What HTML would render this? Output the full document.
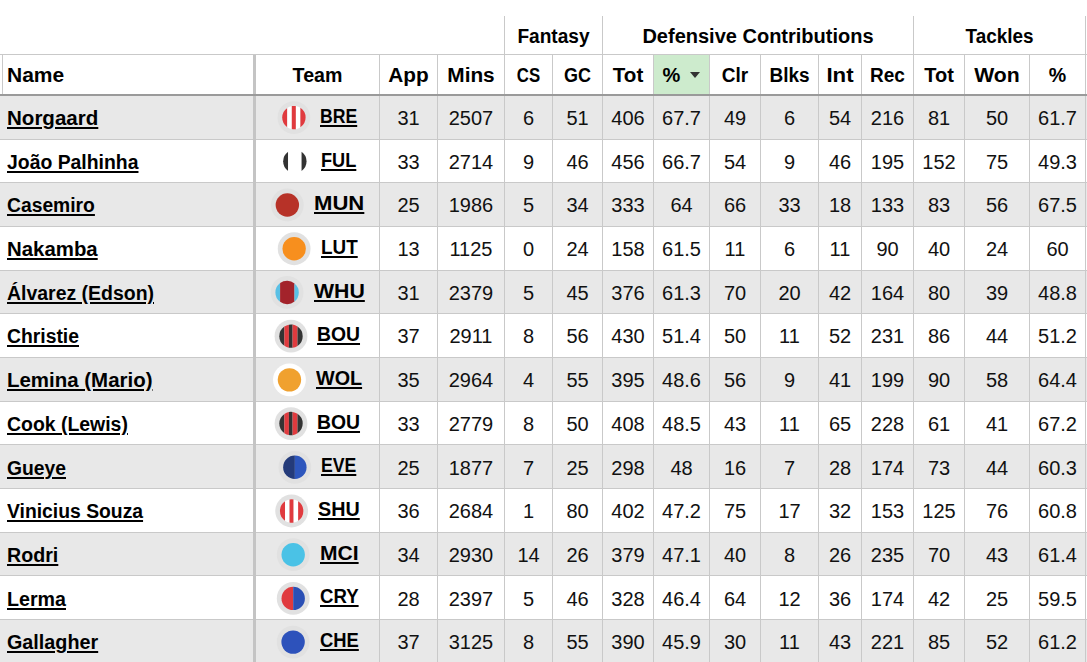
<!DOCTYPE html><html><head><meta charset="utf-8"><style>
*{margin:0;padding:0;box-sizing:border-box}
html,body{width:1087px;height:662px;overflow:hidden;background:#fff}
body{position:relative;font-family:"Liberation Sans",sans-serif;font-size:20px;color:#111}
.a{position:absolute}
.t{position:absolute;line-height:20px;height:20px;white-space:nowrap;text-align:center}
.b{font-weight:bold;color:#000}
.u{text-decoration:underline;text-decoration-thickness:2px;text-underline-offset:2px}
.vl{position:absolute;width:1px;background:#c9c9c9}
.hl{position:absolute;height:1px;background:#c9c9c9;left:0;width:1087px}
.ic{display:block;width:23.4px;height:23.4px;border-radius:50%;border:4.7px solid #e1e1e1;box-sizing:content-box;vertical-align:top}
.tm{position:absolute;display:flex;align-items:center;justify-content:center;height:40px}
</style></head><body>

<div class="a" style="left:0;top:96px;width:1087px;height:43px;background:#e8e8e8"></div>
<div class="a" style="left:0;top:183px;width:1087px;height:43px;background:#e8e8e8"></div>
<div class="a" style="left:0;top:271px;width:1087px;height:42px;background:#e8e8e8"></div>
<div class="a" style="left:0;top:358px;width:1087px;height:43px;background:#e8e8e8"></div>
<div class="a" style="left:0;top:445px;width:1087px;height:43px;background:#e8e8e8"></div>
<div class="a" style="left:0;top:533px;width:1087px;height:42px;background:#e8e8e8"></div>
<div class="a" style="left:0;top:620px;width:1087px;height:43px;background:#e8e8e8"></div>
<div class="a" style="left:654px;top:55px;width:55px;height:39px;background:#cdebcd"></div>
<div class="hl" style="top:54px"></div>
<div class="hl" style="top:139px"></div>
<div class="hl" style="top:182px"></div>
<div class="hl" style="top:226px"></div>
<div class="hl" style="top:270px"></div>
<div class="hl" style="top:313px"></div>
<div class="hl" style="top:357px"></div>
<div class="hl" style="top:401px"></div>
<div class="hl" style="top:444px"></div>
<div class="hl" style="top:488px"></div>
<div class="hl" style="top:532px"></div>
<div class="hl" style="top:575px"></div>
<div class="hl" style="top:619px"></div>
<div class="hl" style="top:663px"></div>
<div class="vl" style="left:2px;top:55px;height:39px"></div>
<div class="vl" style="left:253px;top:55px;width:3px;height:607px;background:#c4c4c4"></div>
<div class="vl" style="left:379px;top:55px;height:607px"></div>
<div class="vl" style="left:437px;top:55px;height:607px"></div>
<div class="vl" style="left:504px;top:16px;height:646px"></div>
<div class="vl" style="left:552px;top:55px;height:607px"></div>
<div class="vl" style="left:602px;top:16px;height:646px"></div>
<div class="vl" style="left:653px;top:55px;height:607px"></div>
<div class="vl" style="left:709px;top:55px;height:607px"></div>
<div class="vl" style="left:760px;top:55px;height:607px"></div>
<div class="vl" style="left:818px;top:55px;height:607px"></div>
<div class="vl" style="left:861px;top:55px;height:607px"></div>
<div class="vl" style="left:913px;top:16px;height:646px"></div>
<div class="vl" style="left:964px;top:55px;height:607px"></div>
<div class="vl" style="left:1029px;top:55px;height:607px"></div>
<div class="vl" style="left:1085px;top:16px;height:646px"></div>
<div class="a" style="left:0;top:94px;width:1087px;height:2px;background:#9a9a9a"></div>
<div class="t b" style="left:505px;width:97px;top:26px;transform:scaleX(0.955)">Fantasy</div>
<div class="t b" style="left:603px;width:310px;top:26px;transform:scaleX(1.0)">Defensive Contributions</div>
<div class="t b" style="left:914px;width:171px;top:26px;transform:scaleX(0.946)">Tackles</div>
<div class="t b" style="left:7px;text-align:left;top:65px;transform-origin:0 0;transform:scaleX(1.05)">Name</div>
<div class="t b" style="left:256px;width:123px;top:65px;transform:scaleX(0.98)">Team</div>
<div class="t b" style="left:380px;width:57px;top:65px;transform:scaleX(1.04)">App</div>
<div class="t b" style="left:438px;width:66px;top:65px;transform:scaleX(1.04)">Mins</div>
<div class="t b" style="left:505px;width:47px;top:65px;transform:scaleX(0.84)">CS</div>
<div class="t b" style="left:553px;width:49px;top:65px;transform:scaleX(0.9)">GC</div>
<div class="t b" style="left:603px;width:50px;top:65px;transform:scaleX(1.03)">Tot</div>
<div class="t b" style="left:654px;width:55px;top:65px">%<span style="display:inline-block;width:0;height:0;border-left:5px solid transparent;border-right:5px solid transparent;border-top:6px solid #333;margin-left:10px;vertical-align:4px"></span></div>
<div class="t b" style="left:710px;width:50px;top:65px;transform:scaleX(0.95)">Clr</div>
<div class="t b" style="left:761px;width:57px;top:65px;transform:scaleX(0.95)">Blks</div>
<div class="t b" style="left:819px;width:42px;top:65px;transform:scaleX(1.11)">Int</div>
<div class="t b" style="left:862px;width:51px;top:65px;transform:scaleX(0.95)">Rec</div>
<div class="t b" style="left:914px;width:50px;top:65px;transform:scaleX(1.0)">Tot</div>
<div class="t b" style="left:965px;width:64px;top:65px;transform:scaleX(1.06)">Won</div>
<div class="t b" style="left:1030px;width:55px;top:65px;transform:scaleX(0.98)">%</div>
<div class="t b u" style="left:7px;text-align:left;top:108px;transform-origin:0 0;transform:scaleX(1.0269)">Norgaard</div>
<svg class="a" style="left:275px;top:99px" width="40" height="40"><circle cx="18.90" cy="18.60" r="16.4" fill="#e1e1e1"/><path d="M7.20 18.60L7.20 18.60A11.7 11.7 0 0 0 12.30 28.26L12.30 8.94A11.7 11.7 0 0 0 7.20 18.60Z" fill="#e03a3e"/><path d="M12.30 8.94L12.30 28.26A11.7 11.7 0 0 0 16.80 30.11L16.80 7.09A11.7 11.7 0 0 0 12.30 8.94Z" fill="#ffffff"/><path d="M16.80 7.09L16.80 30.11A11.7 11.7 0 0 0 20.90 30.13L20.90 7.07A11.7 11.7 0 0 0 16.80 7.09Z" fill="#e03a3e"/><path d="M20.90 7.07L20.90 30.13A11.7 11.7 0 0 0 25.40 28.33L25.40 8.87A11.7 11.7 0 0 0 20.90 7.07Z" fill="#ffffff"/><path d="M25.40 8.87L25.40 28.33A11.7 11.7 0 0 0 30.60 18.60L30.60 18.60A11.7 11.7 0 0 0 25.40 8.87Z" fill="#e03a3e"/></svg>
<div class="t b u" style="left:320.30px;text-align:left;top:106px;transform-origin:0 0;transform:scaleX(0.8811)">BRE</div>
<div class="t" style="left:380px;width:57px;top:108px">31</div>
<div class="t" style="left:438px;width:66px;top:108px">2507</div>
<div class="t" style="left:505px;width:47px;top:108px">6</div>
<div class="t" style="left:553px;width:49px;top:108px">51</div>
<div class="t" style="left:603px;width:50px;top:108px">406</div>
<div class="t" style="left:654px;width:55px;top:108px">67.7</div>
<div class="t" style="left:710px;width:50px;top:108px">49</div>
<div class="t" style="left:761px;width:57px;top:108px">6</div>
<div class="t" style="left:819px;width:42px;top:108px">54</div>
<div class="t" style="left:862px;width:51px;top:108px">216</div>
<div class="t" style="left:914px;width:50px;top:108px">81</div>
<div class="t" style="left:965px;width:64px;top:108px">50</div>
<div class="t" style="left:1030px;width:55px;top:108px">61.7</div>
<div class="t b u" style="left:7px;text-align:left;top:152px;transform-origin:0 0;transform:scaleX(0.9696)">João Palhinha</div>
<svg class="a" style="left:276px;top:142px" width="40" height="40"><circle cx="18.85" cy="19.31" r="16.4" fill="#ffffff"/><path d="M7.15 19.31L7.15 19.31A11.7 11.7 0 0 0 12.15 28.90L12.15 9.72A11.7 11.7 0 0 0 7.15 19.31Z" fill="#333"/><path d="M12.15 9.72L12.15 28.90A11.7 11.7 0 0 0 25.55 28.90L25.55 9.72A11.7 11.7 0 0 0 12.15 9.72Z" fill="#fff"/><path d="M25.55 9.72L25.55 28.90A11.7 11.7 0 0 0 30.55 19.31L30.55 19.31A11.7 11.7 0 0 0 25.55 9.72Z" fill="#333"/></svg>
<div class="t b u" style="left:321.25px;text-align:left;top:150px;transform-origin:0 0;transform:scaleX(0.9080)">FUL</div>
<div class="t" style="left:380px;width:57px;top:152px">33</div>
<div class="t" style="left:438px;width:66px;top:152px">2714</div>
<div class="t" style="left:505px;width:47px;top:152px">9</div>
<div class="t" style="left:553px;width:49px;top:152px">46</div>
<div class="t" style="left:603px;width:50px;top:152px">456</div>
<div class="t" style="left:654px;width:55px;top:152px">66.7</div>
<div class="t" style="left:710px;width:50px;top:152px">54</div>
<div class="t" style="left:761px;width:57px;top:152px">9</div>
<div class="t" style="left:819px;width:42px;top:152px">46</div>
<div class="t" style="left:862px;width:51px;top:152px">195</div>
<div class="t" style="left:914px;width:50px;top:152px">152</div>
<div class="t" style="left:965px;width:64px;top:152px">75</div>
<div class="t" style="left:1030px;width:55px;top:152px">49.3</div>
<div class="t b u" style="left:7px;text-align:left;top:195px;transform-origin:0 0;transform:scaleX(0.9643)">Casemiro</div>
<svg class="a" style="left:268px;top:186px" width="40" height="40"><circle cx="19.35" cy="19.02" r="16.4" fill="#e1e1e1"/><circle cx="19.35" cy="19.02" r="11.7" fill="#b73228"/></svg>
<div class="t b u" style="left:313.75px;text-align:left;top:193px;transform-origin:0 0;transform:scaleX(1.1047)">MUN</div>
<div class="t" style="left:380px;width:57px;top:195px">25</div>
<div class="t" style="left:438px;width:66px;top:195px">1986</div>
<div class="t" style="left:505px;width:47px;top:195px">5</div>
<div class="t" style="left:553px;width:49px;top:195px">34</div>
<div class="t" style="left:603px;width:50px;top:195px">333</div>
<div class="t" style="left:654px;width:55px;top:195px">64</div>
<div class="t" style="left:710px;width:50px;top:195px">66</div>
<div class="t" style="left:761px;width:57px;top:195px">33</div>
<div class="t" style="left:819px;width:42px;top:195px">18</div>
<div class="t" style="left:862px;width:51px;top:195px">133</div>
<div class="t" style="left:914px;width:50px;top:195px">83</div>
<div class="t" style="left:965px;width:64px;top:195px">56</div>
<div class="t" style="left:1030px;width:55px;top:195px">67.5</div>
<div class="t b u" style="left:7px;text-align:left;top:239px;transform-origin:0 0;transform:scaleX(1.0198)">Nakamba</div>
<svg class="a" style="left:275px;top:230px" width="40" height="40"><circle cx="19.15" cy="18.73" r="16.4" fill="#e1e1e1"/><circle cx="19.15" cy="18.73" r="11.7" fill="#f78f1e"/></svg>
<div class="t b u" style="left:320.55px;text-align:left;top:237px;transform-origin:0 0;transform:scaleX(0.9441)">LUT</div>
<div class="t" style="left:380px;width:57px;top:239px">13</div>
<div class="t" style="left:438px;width:66px;top:239px">1125</div>
<div class="t" style="left:505px;width:47px;top:239px">0</div>
<div class="t" style="left:553px;width:49px;top:239px">24</div>
<div class="t" style="left:603px;width:50px;top:239px">158</div>
<div class="t" style="left:654px;width:55px;top:239px">61.5</div>
<div class="t" style="left:710px;width:50px;top:239px">11</div>
<div class="t" style="left:761px;width:57px;top:239px">6</div>
<div class="t" style="left:819px;width:42px;top:239px">11</div>
<div class="t" style="left:862px;width:51px;top:239px">90</div>
<div class="t" style="left:914px;width:50px;top:239px">40</div>
<div class="t" style="left:965px;width:64px;top:239px">24</div>
<div class="t" style="left:1030px;width:55px;top:239px">60</div>
<div class="t b u" style="left:7px;text-align:left;top:283px;transform-origin:0 0;transform:scaleX(0.9725)">Álvarez (Edson)</div>
<svg class="a" style="left:268px;top:274px" width="40" height="40"><circle cx="19.10" cy="18.44" r="16.4" fill="#e1e1e1"/><path d="M7.40 18.44L7.40 18.44A11.7 11.7 0 0 0 12.10 27.81L12.10 9.07A11.7 11.7 0 0 0 7.40 18.44Z" fill="#5ac0e5"/><path d="M12.10 9.07L12.10 27.81A11.7 11.7 0 0 0 26.50 27.50L26.50 9.38A11.7 11.7 0 0 0 12.10 9.07Z" fill="#a3232b"/><path d="M26.50 9.38L26.50 27.50A11.7 11.7 0 0 0 30.80 18.44L30.80 18.44A11.7 11.7 0 0 0 26.50 9.38Z" fill="#5ac0e5"/></svg>
<div class="t b u" style="left:313.50px;text-align:left;top:281px;transform-origin:0 0;transform:scaleX(1.0639)">WHU</div>
<div class="t" style="left:380px;width:57px;top:283px">31</div>
<div class="t" style="left:438px;width:66px;top:283px">2379</div>
<div class="t" style="left:505px;width:47px;top:283px">5</div>
<div class="t" style="left:553px;width:49px;top:283px">45</div>
<div class="t" style="left:603px;width:50px;top:283px">376</div>
<div class="t" style="left:654px;width:55px;top:283px">61.3</div>
<div class="t" style="left:710px;width:50px;top:283px">70</div>
<div class="t" style="left:761px;width:57px;top:283px">20</div>
<div class="t" style="left:819px;width:42px;top:283px">42</div>
<div class="t" style="left:862px;width:51px;top:283px">164</div>
<div class="t" style="left:914px;width:50px;top:283px">80</div>
<div class="t" style="left:965px;width:64px;top:283px">39</div>
<div class="t" style="left:1030px;width:55px;top:283px">48.8</div>
<div class="t b u" style="left:7px;text-align:left;top:326px;transform-origin:0 0;transform:scaleX(0.9668)">Christie</div>
<svg class="a" style="left:272px;top:317px" width="40" height="40"><circle cx="19.00" cy="19.15" r="16.4" fill="#e1e1e1"/><path d="M7.30 19.15L7.30 19.15A11.7 11.7 0 0 0 12.40 28.81L12.40 9.49A11.7 11.7 0 0 0 7.30 19.15Z" fill="#333"/><path d="M12.40 9.49L12.40 28.81A11.7 11.7 0 0 0 16.90 30.66L16.90 7.64A11.7 11.7 0 0 0 12.40 9.49Z" fill="#e03a3e"/><path d="M16.90 7.64L16.90 30.66A11.7 11.7 0 0 0 20.60 30.74L20.60 7.56A11.7 11.7 0 0 0 16.90 7.64Z" fill="#333"/><path d="M20.60 7.56L20.60 30.74A11.7 11.7 0 0 0 25.50 28.88L25.50 9.42A11.7 11.7 0 0 0 20.60 7.56Z" fill="#e03a3e"/><path d="M25.50 9.42L25.50 28.88A11.7 11.7 0 0 0 30.70 19.15L30.70 19.15A11.7 11.7 0 0 0 25.50 9.42Z" fill="#333"/></svg>
<div class="t b u" style="left:317.40px;text-align:left;top:324px;transform-origin:0 0;transform:scaleX(0.9677)">BOU</div>
<div class="t" style="left:380px;width:57px;top:326px">37</div>
<div class="t" style="left:438px;width:66px;top:326px">2911</div>
<div class="t" style="left:505px;width:47px;top:326px">8</div>
<div class="t" style="left:553px;width:49px;top:326px">56</div>
<div class="t" style="left:603px;width:50px;top:326px">430</div>
<div class="t" style="left:654px;width:55px;top:326px">51.4</div>
<div class="t" style="left:710px;width:50px;top:326px">50</div>
<div class="t" style="left:761px;width:57px;top:326px">11</div>
<div class="t" style="left:819px;width:42px;top:326px">52</div>
<div class="t" style="left:862px;width:51px;top:326px">231</div>
<div class="t" style="left:914px;width:50px;top:326px">86</div>
<div class="t" style="left:965px;width:64px;top:326px">44</div>
<div class="t" style="left:1030px;width:55px;top:326px">51.2</div>
<div class="t b u" style="left:7px;text-align:left;top:370px;transform-origin:0 0;transform:scaleX(1.0228)">Lemina (Mario)</div>
<svg class="a" style="left:271px;top:361px" width="40" height="40"><circle cx="18.45" cy="18.86" r="16.4" fill="#ffffff"/><circle cx="18.45" cy="18.86" r="11.7" fill="#f0a12f"/></svg>
<div class="t b u" style="left:315.85px;text-align:left;top:368px;transform-origin:0 0;transform:scaleX(0.9881)">WOL</div>
<div class="t" style="left:380px;width:57px;top:370px">35</div>
<div class="t" style="left:438px;width:66px;top:370px">2964</div>
<div class="t" style="left:505px;width:47px;top:370px">4</div>
<div class="t" style="left:553px;width:49px;top:370px">55</div>
<div class="t" style="left:603px;width:50px;top:370px">395</div>
<div class="t" style="left:654px;width:55px;top:370px">48.6</div>
<div class="t" style="left:710px;width:50px;top:370px">56</div>
<div class="t" style="left:761px;width:57px;top:370px">9</div>
<div class="t" style="left:819px;width:42px;top:370px">41</div>
<div class="t" style="left:862px;width:51px;top:370px">199</div>
<div class="t" style="left:914px;width:50px;top:370px">90</div>
<div class="t" style="left:965px;width:64px;top:370px">58</div>
<div class="t" style="left:1030px;width:55px;top:370px">64.4</div>
<div class="t b u" style="left:7px;text-align:left;top:414px;transform-origin:0 0;transform:scaleX(0.9713)">Cook (Lewis)</div>
<svg class="a" style="left:272px;top:405px" width="40" height="40"><circle cx="19.00" cy="18.57" r="16.4" fill="#e1e1e1"/><path d="M7.30 18.57L7.30 18.57A11.7 11.7 0 0 0 12.40 28.23L12.40 8.91A11.7 11.7 0 0 0 7.30 18.57Z" fill="#333"/><path d="M12.40 8.91L12.40 28.23A11.7 11.7 0 0 0 16.90 30.08L16.90 7.06A11.7 11.7 0 0 0 12.40 8.91Z" fill="#e03a3e"/><path d="M16.90 7.06L16.90 30.08A11.7 11.7 0 0 0 20.60 30.16L20.60 6.98A11.7 11.7 0 0 0 16.90 7.06Z" fill="#333"/><path d="M20.60 6.98L20.60 30.16A11.7 11.7 0 0 0 25.50 28.30L25.50 8.84A11.7 11.7 0 0 0 20.60 6.98Z" fill="#e03a3e"/><path d="M25.50 8.84L25.50 28.30A11.7 11.7 0 0 0 30.70 18.57L30.70 18.57A11.7 11.7 0 0 0 25.50 8.84Z" fill="#333"/></svg>
<div class="t b u" style="left:317.40px;text-align:left;top:412px;transform-origin:0 0;transform:scaleX(0.9677)">BOU</div>
<div class="t" style="left:380px;width:57px;top:414px">33</div>
<div class="t" style="left:438px;width:66px;top:414px">2779</div>
<div class="t" style="left:505px;width:47px;top:414px">8</div>
<div class="t" style="left:553px;width:49px;top:414px">50</div>
<div class="t" style="left:603px;width:50px;top:414px">408</div>
<div class="t" style="left:654px;width:55px;top:414px">48.5</div>
<div class="t" style="left:710px;width:50px;top:414px">43</div>
<div class="t" style="left:761px;width:57px;top:414px">11</div>
<div class="t" style="left:819px;width:42px;top:414px">65</div>
<div class="t" style="left:862px;width:51px;top:414px">228</div>
<div class="t" style="left:914px;width:50px;top:414px">61</div>
<div class="t" style="left:965px;width:64px;top:414px">41</div>
<div class="t" style="left:1030px;width:55px;top:414px">67.2</div>
<div class="t b u" style="left:7px;text-align:left;top:458px;transform-origin:0 0;transform:scaleX(0.9647)">Gueye</div>
<svg class="a" style="left:276px;top:448px" width="40" height="40"><circle cx="18.85" cy="19.28" r="16.4" fill="#e1e1e1"/><path d="M7.15 19.28L7.15 19.28A11.7 11.7 0 0 0 18.85 30.98L18.85 7.58A11.7 11.7 0 0 0 7.15 19.28Z" fill="#243b7a"/><path d="M18.85 7.58L18.85 30.98A11.7 11.7 0 0 0 30.55 19.28L30.55 19.28A11.7 11.7 0 0 0 18.85 7.58Z" fill="#2d56bd"/></svg>
<div class="t b u" style="left:321.25px;text-align:left;top:455px;transform-origin:0 0;transform:scaleX(0.8818)">EVE</div>
<div class="t" style="left:380px;width:57px;top:458px">25</div>
<div class="t" style="left:438px;width:66px;top:458px">1877</div>
<div class="t" style="left:505px;width:47px;top:458px">7</div>
<div class="t" style="left:553px;width:49px;top:458px">25</div>
<div class="t" style="left:603px;width:50px;top:458px">298</div>
<div class="t" style="left:654px;width:55px;top:458px">48</div>
<div class="t" style="left:710px;width:50px;top:458px">16</div>
<div class="t" style="left:761px;width:57px;top:458px">7</div>
<div class="t" style="left:819px;width:42px;top:458px">28</div>
<div class="t" style="left:862px;width:51px;top:458px">174</div>
<div class="t" style="left:914px;width:50px;top:458px">73</div>
<div class="t" style="left:965px;width:64px;top:458px">44</div>
<div class="t" style="left:1030px;width:55px;top:458px">60.3</div>
<div class="t b u" style="left:7px;text-align:left;top:501px;transform-origin:0 0;transform:scaleX(0.9664)">Vinicius Souza</div>
<svg class="a" style="left:273px;top:492px" width="40" height="40"><circle cx="18.65" cy="18.99" r="16.4" fill="#e1e1e1"/><path d="M6.95 18.99L6.95 18.99A11.7 11.7 0 0 0 12.05 28.65L12.05 9.33A11.7 11.7 0 0 0 6.95 18.99Z" fill="#e03a3e"/><path d="M12.05 9.33L12.05 28.65A11.7 11.7 0 0 0 16.55 30.50L16.55 7.48A11.7 11.7 0 0 0 12.05 9.33Z" fill="#ffffff"/><path d="M16.55 7.48L16.55 30.50A11.7 11.7 0 0 0 20.65 30.52L20.65 7.46A11.7 11.7 0 0 0 16.55 7.48Z" fill="#e03a3e"/><path d="M20.65 7.46L20.65 30.52A11.7 11.7 0 0 0 25.15 28.72L25.15 9.26A11.7 11.7 0 0 0 20.65 7.46Z" fill="#ffffff"/><path d="M25.15 9.26L25.15 28.72A11.7 11.7 0 0 0 30.35 18.99L30.35 18.99A11.7 11.7 0 0 0 25.15 9.26Z" fill="#e03a3e"/></svg>
<div class="t b u" style="left:318.05px;text-align:left;top:499px;transform-origin:0 0;transform:scaleX(0.9877)">SHU</div>
<div class="t" style="left:380px;width:57px;top:501px">36</div>
<div class="t" style="left:438px;width:66px;top:501px">2684</div>
<div class="t" style="left:505px;width:47px;top:501px">1</div>
<div class="t" style="left:553px;width:49px;top:501px">80</div>
<div class="t" style="left:603px;width:50px;top:501px">402</div>
<div class="t" style="left:654px;width:55px;top:501px">47.2</div>
<div class="t" style="left:710px;width:50px;top:501px">75</div>
<div class="t" style="left:761px;width:57px;top:501px">17</div>
<div class="t" style="left:819px;width:42px;top:501px">32</div>
<div class="t" style="left:862px;width:51px;top:501px">153</div>
<div class="t" style="left:914px;width:50px;top:501px">125</div>
<div class="t" style="left:965px;width:64px;top:501px">76</div>
<div class="t" style="left:1030px;width:55px;top:501px">60.8</div>
<div class="t b u" style="left:7px;text-align:left;top:545px;transform-origin:0 0;transform:scaleX(0.9824)">Rodri</div>
<svg class="a" style="left:274px;top:536px" width="40" height="40"><circle cx="19.20" cy="18.70" r="16.4" fill="#e1e1e1"/><circle cx="19.20" cy="18.70" r="11.7" fill="#4ac2e6"/></svg>
<div class="t b u" style="left:319.60px;text-align:left;top:543px;transform-origin:0 0;transform:scaleX(1.0530)">MCI</div>
<div class="t" style="left:380px;width:57px;top:545px">34</div>
<div class="t" style="left:438px;width:66px;top:545px">2930</div>
<div class="t" style="left:505px;width:47px;top:545px">14</div>
<div class="t" style="left:553px;width:49px;top:545px">26</div>
<div class="t" style="left:603px;width:50px;top:545px">379</div>
<div class="t" style="left:654px;width:55px;top:545px">47.1</div>
<div class="t" style="left:710px;width:50px;top:545px">40</div>
<div class="t" style="left:761px;width:57px;top:545px">8</div>
<div class="t" style="left:819px;width:42px;top:545px">26</div>
<div class="t" style="left:862px;width:51px;top:545px">235</div>
<div class="t" style="left:914px;width:50px;top:545px">70</div>
<div class="t" style="left:965px;width:64px;top:545px">43</div>
<div class="t" style="left:1030px;width:55px;top:545px">61.4</div>
<div class="t b u" style="left:7px;text-align:left;top:589px;transform-origin:0 0;transform:scaleX(0.9828)">Lerma</div>
<svg class="a" style="left:274px;top:580px" width="40" height="40"><circle cx="19.20" cy="18.41" r="16.4" fill="#e1e1e1"/><path d="M7.50 18.41L7.50 18.41A11.7 11.7 0 0 0 19.20 30.11L19.20 6.71A11.7 11.7 0 0 0 7.50 18.41Z" fill="#e03a3e"/><path d="M19.20 6.71L19.20 30.11A11.7 11.7 0 0 0 30.90 18.41L30.90 18.41A11.7 11.7 0 0 0 19.20 6.71Z" fill="#2b50b5"/></svg>
<div class="t b u" style="left:319.60px;text-align:left;top:586px;transform-origin:0 0;transform:scaleX(0.9305)">CRY</div>
<div class="t" style="left:380px;width:57px;top:589px">28</div>
<div class="t" style="left:438px;width:66px;top:589px">2397</div>
<div class="t" style="left:505px;width:47px;top:589px">5</div>
<div class="t" style="left:553px;width:49px;top:589px">46</div>
<div class="t" style="left:603px;width:50px;top:589px">328</div>
<div class="t" style="left:654px;width:55px;top:589px">46.4</div>
<div class="t" style="left:710px;width:50px;top:589px">64</div>
<div class="t" style="left:761px;width:57px;top:589px">12</div>
<div class="t" style="left:819px;width:42px;top:589px">36</div>
<div class="t" style="left:862px;width:51px;top:589px">174</div>
<div class="t" style="left:914px;width:50px;top:589px">42</div>
<div class="t" style="left:965px;width:64px;top:589px">25</div>
<div class="t" style="left:1030px;width:55px;top:589px">59.5</div>
<div class="t b u" style="left:7px;text-align:left;top:632px;transform-origin:0 0;transform:scaleX(0.9883)">Gallagher</div>
<svg class="a" style="left:274px;top:623px" width="40" height="40"><circle cx="19.10" cy="19.12" r="16.4" fill="#e1e1e1"/><circle cx="19.10" cy="19.12" r="11.7" fill="#2d52bb"/></svg>
<div class="t b u" style="left:319.50px;text-align:left;top:630px;transform-origin:0 0;transform:scaleX(0.9190)">CHE</div>
<div class="t" style="left:380px;width:57px;top:632px">37</div>
<div class="t" style="left:438px;width:66px;top:632px">3125</div>
<div class="t" style="left:505px;width:47px;top:632px">8</div>
<div class="t" style="left:553px;width:49px;top:632px">55</div>
<div class="t" style="left:603px;width:50px;top:632px">390</div>
<div class="t" style="left:654px;width:55px;top:632px">45.9</div>
<div class="t" style="left:710px;width:50px;top:632px">30</div>
<div class="t" style="left:761px;width:57px;top:632px">11</div>
<div class="t" style="left:819px;width:42px;top:632px">43</div>
<div class="t" style="left:862px;width:51px;top:632px">221</div>
<div class="t" style="left:914px;width:50px;top:632px">85</div>
<div class="t" style="left:965px;width:64px;top:632px">52</div>
<div class="t" style="left:1030px;width:55px;top:632px">61.2</div>
</body></html>
